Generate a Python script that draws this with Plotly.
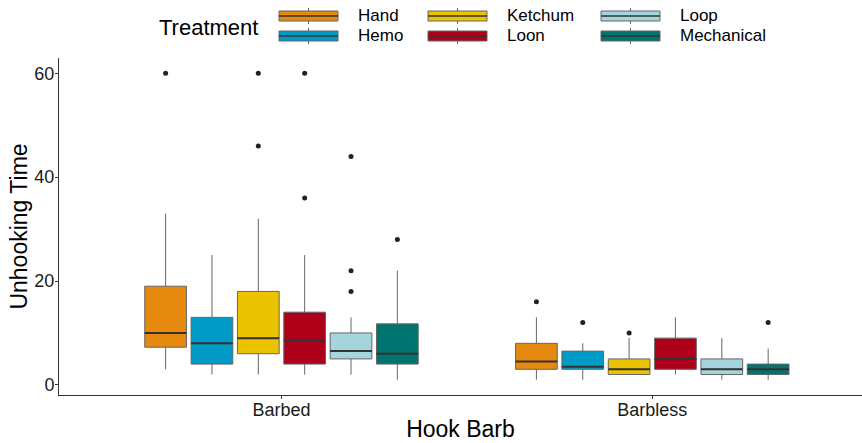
import plotly.graph_objects as go

# Hook barb groups on the x axis, treatments dodged within each group
groups = ["Barbed", "Barbless"]
treatments = ["Hand", "Hemo", "Ketchum", "Loon", "Loop", "Mechanical"]
colors = ["#E5890F", "#009AC7", "#EBC300", "#AE0019", "#A5D5DC", "#00756F"]

# Box statistics per treatment: [Barbed, Barbless]
lower_whisker = [[3, 1], [2, 1], [2, 2], [2, 2], [2, 1], [1, 1]]
q1 = [[7.25, 3], [4, 3], [6, 2], [4, 3], [5, 2], [4, 2]]
median = [[10, 4.5], [8, 3.5], [9, 3], [8.5, 5], [6.5, 3], [6, 3]]
q3 = [[19, 8], [13, 6.5], [18, 5], [14, 9], [10, 5], [11.75, 4]]
upper_whisker = [[33, 13], [25, 8], [32, 9], [25, 13], [13, 9], [22, 7]]
# Outlying points per treatment: [Barbed list, Barbless list]
outliers = [
    [[60], [16]],
    [[], [12]],
    [[60, 46], [10]],
    [[60, 36], []],
    [[44, 22, 18], []],
    [[28], [12]],
]

y_ticks = [0, 20, 40, 60]

W, H = 862, 443
ML, MR, MT, MB = 59, 0, 58, 48
PW, PH = W - ML - MR, H - MT - MB

DODGE = 0.75 / len(treatments)
BOX_W = 0.9 * DODGE
X_MIN = 0.4
X_MAX = X_MIN + PW / 370.8
Y_MIN, Y_MAX = -1.95, 62.95


def px_x(px):
    return (px - ML) / PW


def px_y(py):
    return (H - MB - py) / PH


fig = go.Figure()

for i, (name, col) in enumerate(zip(treatments, colors)):
    off = (i - (len(treatments) - 1) / 2) * DODGE
    pos = [g + 1 + off for g in range(len(groups))]
    fig.add_trace(go.Box(
        name=name,
        x=pos,
        q1=q1[i], median=median[i], q3=q3[i],
        lowerfence=lower_whisker[i], upperfence=upper_whisker[i],
        width=BOX_W,
        whiskerwidth=0,
        fillcolor=col,
        line=dict(color="#666666", width=1),
        showlegend=False,
        hoverinfo="skip",
    ))
    # darker median bars drawn over each box
    mx, my = [], []
    for p, m in zip(pos, median[i]):
        mx += [p - BOX_W / 2, p + BOX_W / 2, None]
        my += [m, m, None]
    fig.add_trace(go.Scatter(
        x=mx, y=my, mode="lines",
        line=dict(color="#333333", width=2),
        showlegend=False, hoverinfo="skip",
    ))
    ox, oy = [], []
    for p, pts in zip(pos, outliers[i]):
        ox += [p] * len(pts)
        oy += pts
    fig.add_trace(go.Scatter(
        x=ox, y=oy, mode="markers",
        marker=dict(color="#222222", size=5),
        showlegend=False, hoverinfo="skip",
    ))

# Legend drawn as box-shaped keys in three columns of two rows
shapes = []
annotations = []
col_left = [279, 428, 601]
row_mid = [16, 36]
key_w, key_h = 59, 10
for i, (name, col) in enumerate(zip(treatments, colors)):
    c, r = divmod(i, 2)
    x0, x1 = col_left[c], col_left[c] + key_w
    yc = row_mid[r]
    y0, y1 = yc - key_h / 2, yc + key_h / 2
    xm = (x0 + x1) / 2
    shapes.append(dict(type="line", xref="paper", yref="paper",
                       x0=px_x(xm), x1=px_x(xm), y0=px_y(y0 - 3), y1=px_y(y1 + 3),
                       line=dict(color="#666666", width=1)))
    shapes.append(dict(type="rect", xref="paper", yref="paper",
                       x0=px_x(x0), x1=px_x(x1), y0=px_y(y1), y1=px_y(y0),
                       fillcolor=col, line=dict(color="#666666", width=1)))
    shapes.append(dict(type="line", xref="paper", yref="paper",
                       x0=px_x(x0), x1=px_x(x1), y0=px_y(yc), y1=px_y(yc),
                       line=dict(color="#333333", width=1.5)))
    annotations.append(dict(text=name, xref="paper", yref="paper",
                            x=px_x(x1 + 18), y=px_y(yc), xanchor="left", yanchor="middle",
                            showarrow=False, font=dict(size=17, color="#000000")))

annotations.append(dict(text="Treatment", xref="paper", yref="paper",
                        x=px_x(157), y=px_y(27), xanchor="left", yanchor="middle",
                        showarrow=False, font=dict(size=22, color="#000000")))

fig.update_layout(
    width=W, height=H,
    margin=dict(l=ML, r=MR, t=MT, b=MB, autoexpand=False),
    paper_bgcolor="white", plot_bgcolor="white",
    font=dict(family="Liberation Sans, Arial, sans-serif", color="#000000"),
    shapes=shapes,
    annotations=annotations,
    showlegend=False,
    xaxis=dict(
        range=[X_MIN, X_MAX],
        tickmode="array",
        tickvals=[g + 1 for g in range(len(groups))],
        ticktext=groups,
        ticks="outside", ticklen=3, tickcolor="#333333", tickwidth=1,
        ticklabelstandoff=-5,
        showline=True, linecolor="#333333", linewidth=1,
        showgrid=False, zeroline=False,
        tickfont=dict(size=18, color="#1a1a1a"),
        title=dict(text="Hook Barb", font=dict(size=23, color="#000000"), standoff=2),
    ),
    yaxis=dict(
        range=[Y_MIN, Y_MAX],
        tickmode="array",
        tickvals=y_ticks,
        ticks="outside", ticklen=3, tickcolor="#333333", tickwidth=1,
        ticklabelstandoff=-3,
        showline=True, linecolor="#333333", linewidth=1,
        showgrid=False, zeroline=False,
        tickfont=dict(size=18, color="#1a1a1a"),
        title=dict(text="Unhooking Time", font=dict(size=23, color="#000000"), standoff=0),
    ),
)

fig.write_html("out.html")
